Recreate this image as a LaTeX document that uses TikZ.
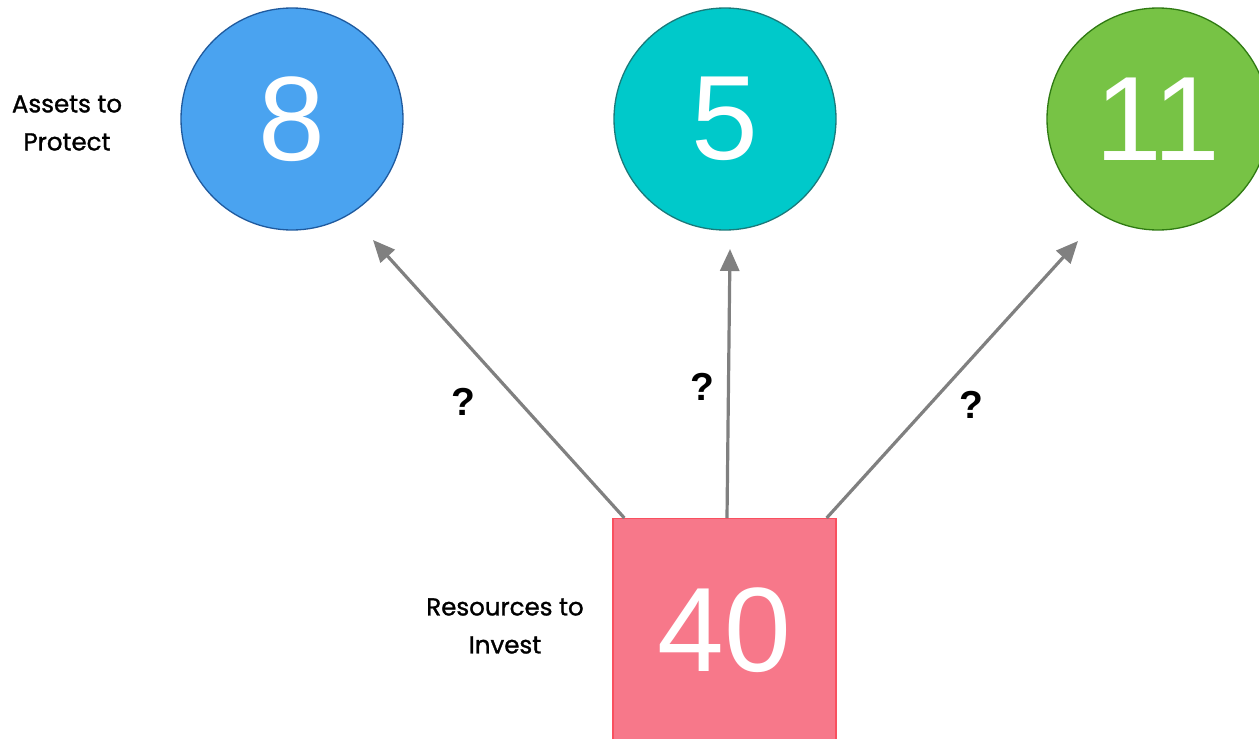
\documentclass[tikz,border=0pt]{standalone}
\usepackage{fontspec}
\setmainfont{Liberation Sans}
\newfontfamily\labfont[FakeBold=1.2]{Poppins}
\usetikzlibrary{arrows.meta}
\definecolor{cblue}{HTML}{4AA3F0}
\definecolor{cblueb}{HTML}{1F5A9E}
\definecolor{ccyan}{HTML}{00C9CA}
\definecolor{ccyanb}{HTML}{1A7A7A}
\definecolor{cgreen}{HTML}{77C345}
\definecolor{cgreenb}{HTML}{2F7A12}
\definecolor{cpink}{HTML}{F7788A}
\definecolor{cpinkb}{HTML}{F9505F}
\definecolor{agray}{HTML}{808080}
\tikzset{
  numcircle/.style={circle, minimum size=222pt, inner sep=0pt, line width=1.3pt, text=white, font=\fontsize{120}{120}\selectfont},
  numsquare/.style={rectangle, minimum size=223pt, inner sep=0pt, line width=1.3pt, text=white, font=\fontsize{120}{120}\selectfont},
  arr/.style={draw=agray, line width=3.2pt, -{Triangle[length=22pt,width=19pt]}},
  qmark/.style={font=\fontsize{39}{39}\selectfont\bfseries},
  sidelabel/.style={align=center, font=\labfont\fontsize{24.5}{38}\selectfont}
}
\begin{document}
\begin{tikzpicture}[x=1pt,y=-1pt]
\useasboundingbox (0,0) rectangle (1259,739);
\clip (0,0) rectangle (1259,739);
\node[numcircle, fill=cblue, draw=cblueb] (c1) at (292,119) {8};
\node[numcircle, fill=ccyan, draw=ccyanb] (c2) at (725,119) {5};
\node[numcircle, fill=cgreen, draw=cgreenb] (c3) at (1158,119) {11};
\node[numsquare, fill=cpink, draw=cpinkb, anchor=north] (sq) at (724.5,518) {};
\node[text=white, font=\fontsize{120}{120}\selectfont] (n40) at (724.5,630) {40};
\coordinate (t1) at (373,240);
\coordinate (t2) at (730,249);
\coordinate (t3) at (1078,241);
\draw[arr] ([xshift=12pt]sq.north west) -- (t1);
\draw[arr] ([xshift=2.5pt]sq.north) -- (t2);
\draw[arr] ([xshift=-10pt]sq.north east) -- (t3);
\node[qmark] (q1) at (463,402) {?};
\node[qmark] (q2) at (702,387) {?};
\node[qmark] (q3) at (971,405) {?};
\node[sidelabel] (lab1) at (67,123) {Assets to\\Protect};
\node[sidelabel] (lab2) at (505,626) {Resources to\\Invest};
\end{tikzpicture}
\end{document}
